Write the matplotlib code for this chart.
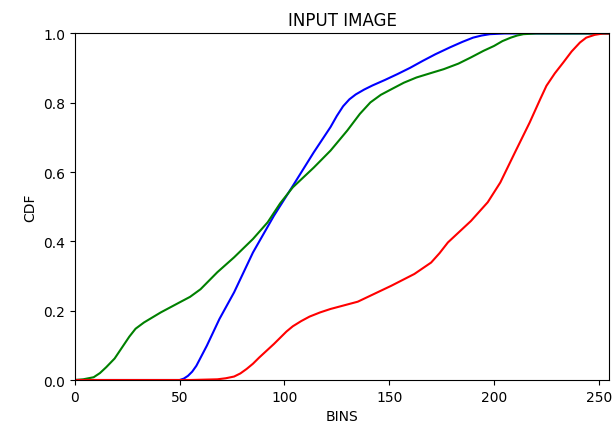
import numpy as np
import matplotlib
matplotlib.use("Agg")
import matplotlib.pyplot as plt

# CDF values, one (bins, cdf) pair per channel
blue_x = [0, 50, 52, 54, 56, 58, 63, 69, 76, 85, 95, 104, 114, 122, 125, 128,
          131, 134, 138, 142, 148, 154, 160, 166, 172, 179, 185, 190, 194,
          198, 205, 255]
blue_y = [0, 0, 0.004, 0.012, 0.024, 0.041, 0.099, 0.176, 0.253, 0.368, 0.474,
          0.560, 0.657, 0.730, 0.762, 0.790, 0.810, 0.824, 0.838, 0.850, 0.866,
          0.883, 0.901, 0.921, 0.940, 0.960, 0.976, 0.988, 0.994, 0.998, 1.0,
          1.0]

green_x = [0, 4, 9, 12, 15, 19, 22, 26, 29, 33, 41, 50, 55, 60, 68, 76, 85, 92,
           98, 104, 114, 122, 130, 136, 141, 146, 151, 157, 163, 170, 176, 183,
           189, 195, 200, 204, 208, 211, 214, 220, 255]
green_y = [0, 0.002, 0.008, 0.020, 0.037, 0.062, 0.089, 0.125, 0.148, 0.166,
           0.195, 0.224, 0.240, 0.262, 0.311, 0.354, 0.407, 0.455, 0.510, 0.556,
           0.613, 0.662, 0.720, 0.768, 0.801, 0.823, 0.839, 0.858, 0.873, 0.886,
           0.897, 0.913, 0.931, 0.950, 0.964, 0.978, 0.988, 0.994, 0.998, 1.0,
           1.0]

red_x = [0, 55, 68, 72, 76, 79, 82, 85, 88, 95, 101, 104, 108, 112, 117, 122,
         135, 151, 162, 170, 174, 178, 189, 197, 203, 210, 217, 222, 225, 229,
         233, 237, 241, 244, 248, 252, 255]
red_y = [0, 0, 0.002, 0.005, 0.01, 0.019, 0.032, 0.047, 0.065, 0.104, 0.140,
         0.155, 0.170, 0.183, 0.195, 0.205, 0.226, 0.272, 0.306, 0.339, 0.366,
         0.397, 0.459, 0.513, 0.570, 0.657, 0.743, 0.810, 0.849, 0.885, 0.916,
         0.948, 0.974, 0.988, 0.996, 1.0, 1.0]

fig = plt.figure(figsize=(6.13, 4.31), dpi=100)
ax = fig.add_axes([0.122, 0.116, 0.872, 0.804])

ax.plot(blue_x, blue_y, color="b", lw=1.5)
ax.plot(green_x, green_y, color="g", lw=1.5)
ax.plot(red_x, red_y, color="r", lw=1.5)

ax.set_xlim(0, 255)
ax.set_ylim(0, 1)
ax.set_xticks([0, 50, 100, 150, 200, 250])
ax.set_yticks([0.0, 0.2, 0.4, 0.6, 0.8, 1.0])
ax.set_title("INPUT IMAGE")
ax.set_xlabel("BINS")
ax.set_ylabel("CDF")

fig.savefig("out.png", dpi=100)
